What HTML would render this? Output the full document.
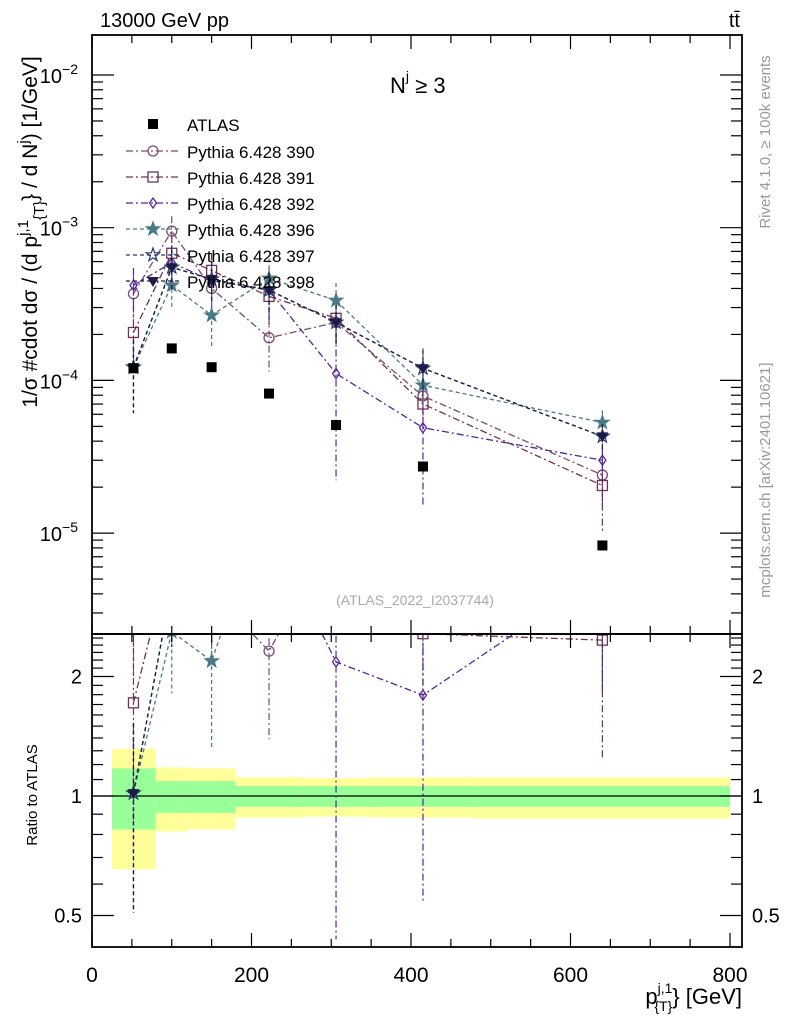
<!DOCTYPE html>
<html><head><meta charset="utf-8"><style>
body{margin:0;background:#fff}
svg text{font-family:"Liberation Sans",sans-serif}
</style></head><body>
<svg id="c" width="786" height="1024" xmlns="http://www.w3.org/2000/svg"></svg>
<script>
const xPts=[52,100,150,222,306,415,640];
const binEdges=[25,80,120,180,265,350,480,800];
const atlas=[1.2e-4,1.62e-4,1.22e-4,8.2e-5,5.1e-5,2.73e-5,8.3e-6];
const yelLo=[0.654,0.814,0.823,0.882,0.887,0.882,0.877];
const yelHi=[1.316,1.181,1.174,1.115,1.109,1.115,1.115];
const grnLo=[0.823,0.907,0.907,0.939,0.939,0.939,0.939];
const grnHi=[1.174,1.09,1.09,1.059,1.059,1.059,1.059];
const s390=[3.7e-4,9.5e-4,4.0e-4,1.9e-4,2.4e-4,7.9e-5,2.4e-5];
const s391=[2.06e-4,6.8e-4,5.25e-4,3.55e-4,2.55e-4,7.0e-5,2.05e-5];
const s392=[4.2e-4,5.9e-4,4.5e-4,3.9e-4,1.11e-4,4.9e-5,3.0e-5];
const s396=[1.22e-4,4.2e-4,2.67e-4,4.66e-4,3.34e-4,9.3e-5,5.3e-5];
const s397=[1.22e-4,5.5e-4,4.6e-4,3.9e-4,2.4e-4,1.2e-4,4.3e-5];
const s398=[1.22e-4,5.5e-4,4.6e-4,3.9e-4,2.4e-4,1.2e-4,4.3e-5];
const e390=[0.35,0.25,0.3,0.4,0.3,0.3,0.35];
const e391=[0.5,0.3,0.3,0.35,0.3,0.3,0.5];
const e392=[0.3,0.3,0.35,0.4,0.8,0.7,0.5];
const e396=[0.5,0.3,0.4,0.35,0.3,0.3,0.2];
const e397=[0.5,0.3,0.3,0.3,0.3,0.35,0.2];
const e398=[0.5,0.3,0.3,0.3,0.3,0.3,0.2];
const xTicks=[0,200,400,600,800];
const yTicks=[-5,-4,-3,-2];
const rTicks=[0.5,1,2];

const NS="http://www.w3.org/2000/svg",svg=document.getElementById('c');
const L=92,R=742,T=35,MB=634,B=947;
const X=v=>92+(v)*0.7975;
const Y=v=>75-(Math.log10(v)+2)*152.7;
const RY=v=>796-Math.log2(v)*119.5;
function el(t,a,p){const e=document.createElementNS(NS,t);for(const k in a)e.setAttribute(k,a[k]);(p||svg).appendChild(e);return e;}
function tx(x,y,s,a,p){const e=el('text',Object.assign({x:x,y:y},a),p);e.textContent=s;return e;}
const defs=el('defs',{});
const c1=el('clipPath',{id:'cm'},defs);el('rect',{x:L,y:T,width:R-L,height:MB-T},c1);
const c2=el('clipPath',{id:'cr'},defs);el('rect',{x:L,y:MB,width:R-L,height:B-MB},c2);

const gb=el('g',{'clip-path':'url(#cr)'});

for(let i=0;i<atlas.length;i++){
 const r1=el('rect',{x:X(binEdges[i]),width:X(binEdges[i+1])-X(binEdges[i]),y:RY(yelHi[i]),height:RY(yelLo[i])-RY(yelHi[i]),fill:'#ffff99'},gb);
 
 const r2=el('rect',{x:X(binEdges[i]),width:X(binEdges[i+1])-X(binEdges[i]),y:RY(grnHi[i]),height:RY(grnLo[i])-RY(grnHi[i]),fill:'#99ff99'},gb);
 
}
el('line',{x1:L,x2:R,y1:RY(1),y2:RY(1),stroke:'#000','stroke-width':1.3});

function marker(type,x,y,col,g,sz){
 sz=sz||5;
 if(type==='circle')return el('circle',{cx:x,cy:y,r:sz,fill:'none',stroke:col,'stroke-width':1.3},g);
 if(type==='square')return el('rect',{x:x-sz,y:y-sz,width:2*sz,height:2*sz,fill:'none',stroke:col,'stroke-width':1.3},g);
 if(type==='diamond')return el('polygon',{points:`${x},${y-sz} ${x+3.5},${y} ${x},${y+sz} ${x-3.5},${y}`,fill:'none',stroke:col,'stroke-width':1.3},g);
 if(type==='fsquare')return el('rect',{x:x-5,y:y-5,width:10,height:10,fill:'#000'},g);
 if(type==='tri')return el('polygon',{points:`${x-6},${y-4} ${x+6},${y-4} ${x},${y+6}`,fill:col},g);
 let p='';for(let k=0;k<10;k++){const r=k%2?2.8:7,a=-Math.PI/2+k*Math.PI/5;p+=(x+r*Math.cos(a))+','+(y+r*Math.sin(a))+' ';}
 return el('polygon',{points:p,fill:type==='fstar'?col:'none',stroke:col,'stroke-width':1.2},g);
}
const series=[
 {n:'390',d:s390,e:e390,c:'#7a4a72',m:'circle',da:'7,3,2,3'},
 {n:'391',d:s391,e:e391,c:'#6e3450',m:'square',da:'7,3,2,3'},
 {n:'392',d:s392,e:e392,c:'#55269a',m:'diamond',da:'7,3,2,3'},
 {n:'396',d:s396,e:e396,c:'#4a7a85',m:'fstar',da:'4,3'},
 {n:'397',d:s397,e:e397,c:'#283c6e',m:'star',da:'4,3'},
 {n:'398',d:s398,e:e398,c:'#1c1c48',m:'tri',da:'4,3'}];
function drawSeries(s,main){
 const g=el('g',{'clip-path':main?'url(#cm)':'url(#cr)'});
 
 const fy=i=>main?Y(s.d[i]):RY(s.d[i]/atlas[i]);
 const fe=(i,f)=>main?Y(s.d[i]*f):RY(s.d[i]*f/atlas[i]);
 el('polyline',{points:xPts.map((x,i)=>X(x)+','+fy(i)).join(' '),fill:'none',stroke:s.c,'stroke-width':1.3,'stroke-dasharray':s.da},g);
 xPts.forEach((x,i)=>{
  el('line',{x1:X(x),x2:X(x),y1:fe(i,1+s.e[i]),y2:fe(i,Math.max(0.05,1-s.e[i])),stroke:s.c,'stroke-width':1.2,'stroke-dasharray':s.da},g);
  const m=marker(s.m,X(x),fy(i),s.c,g);
  
 });
}
series.forEach(s=>{drawSeries(s,true);drawSeries(s,false);});
const ga=el('g',{});
xPts.forEach((x,i)=>{const m=marker('fsquare',X(x),Y(atlas[i]),'#000',ga);});

el('rect',{x:L,y:T,width:R-L,height:MB-T,fill:'none',stroke:'#000','stroke-width':1.8});
el('rect',{x:L,y:MB,width:R-L,height:B-MB,fill:'none',stroke:'#000','stroke-width':1.8});
for(let v=0;v<=800;v+=50){const big=v%200===0,l=big?14:8;
 [[T,1],[MB,-1],[MB,1],[B,-1]].forEach(([y,d])=>el('line',{x1:X(v),x2:X(v),y1:y,y2:y+d*l,stroke:'#000','stroke-width':1.2}));}
xTicks.forEach(v=>{const t=tx(X(v),982,String(v),{'font-size':21,'text-anchor':'middle'});});
for(let d=-6;d<=-2;d++)for(let k=1;k<10;k++){const v=k*Math.pow(10,d),y=Y(v);if(y<T||y>MB)continue;const l=k===1?22:11;
 el('line',{x1:L,x2:L+l,y1:y,y2:y,stroke:'#000','stroke-width':1.2});el('line',{x1:R,x2:R-l,y1:y,y2:y,stroke:'#000','stroke-width':1.2});}
yTicks.forEach(d=>{const t=tx(78,Y(Math.pow(10,d))+8,'10',{'font-size':20,'text-anchor':'end'});const s=el('tspan',{dy:-9,'font-size':14},t);s.textContent='−'+(-d);
 });
for(let v=0.4;v<=2.6;v+=0.1){const y=RY(v);if(y<MB||y>B)continue;const big=[0.5,1,2].some(q=>Math.abs(q-v)<1e-6),l=big?22:11;
 el('line',{x1:L,x2:L+l,y1:y,y2:y,stroke:'#000','stroke-width':1.2});el('line',{x1:R,x2:R-l,y1:y,y2:y,stroke:'#000','stroke-width':1.2});}
rTicks.forEach(v=>{const a=tx(82,RY(v)+7,String(v),{'font-size':20,'text-anchor':'end'});
 const b=tx(752,RY(v)+7,String(v),{'font-size':20});});

let t;
t=tx(100,27,'13000 GeV pp',{'font-size':20});
t=tx(740,27,'tt̄',{'font-size':20,'text-anchor':'end'});
t=tx(390,93,'N',{'font-size':22});el('tspan',{dy:-12,'font-size':14},t).textContent='j';el('tspan',{dy:12,'font-size':22},t).textContent=' ≥ 3';

t=tx(415,605,'(ATLAS_2022_I2037744)',{'font-size':14,fill:'#aaa','text-anchor':'middle'});
t=tx(0,0,'1/σ #cdot dσ / (d p',{'font-size':21,'text-anchor':'middle',transform:'translate(37,232) rotate(-90)'});
el('tspan',{dy:-9,'font-size':15},t).textContent='j,1';el('tspan',{dy:16,'font-size':15},t).textContent='{T}';
el('tspan',{dy:-7,'font-size':21},t).textContent='} / d N';el('tspan',{dy:-9,'font-size':15},t).textContent='j';el('tspan',{dy:9,'font-size':21},t).textContent=') [1/GeV]';

t=tx(0,0,'Ratio to ATLAS',{'font-size':15,'text-anchor':'middle',transform:'translate(37,795) rotate(-90)'});
t=tx(0,0,'Rivet 4.1.0, ≥ 100k events',{'font-size':15,fill:'#999','text-anchor':'middle',transform:'translate(770,142) rotate(-90)'});
t=tx(0,0,'mcplots.cern.ch [arXiv:2401.10621]',{'font-size':15,fill:'#999','text-anchor':'middle',transform:'translate(770,480) rotate(-90)'});
t=tx(742,1004,'p',{'font-size':22,'text-anchor':'end'});el('tspan',{dy:-11,'font-size':14},t).textContent='j,1';el('tspan',{dy:18,'font-size':14,dx:-18},t).textContent='{T}';el('tspan',{dy:-7,'font-size':22},t).textContent='} [GeV]';


const lg=el('g',{});
const le0=el('g',{},lg);
marker('fsquare',153,124,'#000',le0);tx(187,131,'ATLAS',{'font-size':17},le0);
series.forEach((s,i)=>{const y=151+i*26;const g=el('g',{},lg);
 
 el('line',{x1:126,x2:180,y1:y,y2:y,stroke:s.c,'stroke-width':1.3,'stroke-dasharray':s.da},g);
 marker(s.m,153,y,s.c,g);tx(187,y+7,'Pythia 6.428 '+s.n,{'font-size':17},g);});
</script>
</body></html>
